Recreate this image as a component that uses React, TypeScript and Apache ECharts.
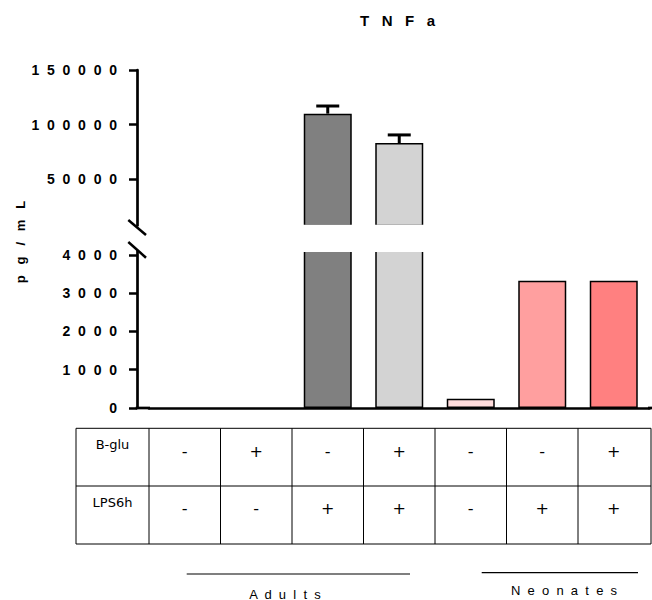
import React, { useEffect, useRef } from 'react';
import * as echarts from 'echarts';

// ---- data ----
const categories = ['Adult -/-', 'Adult +/-', 'Adult -/+', 'Adult +/+', 'Neo -/-', 'Neo -/+', 'Neo +/+'];
const values = [0, 0, 110000, 83000, 240, 3320, 3320];
const sdValues = [0, 0, 7000, 7500, 0, 0, 0];
const barColors = ['#ffffff', '#ffffff', '#808080', '#d3d3d3', '#ffdcdc', '#ff9f9f', '#ff8080'];
const bGlu = ['-', '+', '-', '+', '-', '-', '+'];
const lps6h = ['-', '-', '+', '+', '-', '+', '+'];
const rowLabels = ['B-glu', 'LPS6h'];
const upperTicks = [50000, 100000, 150000];
const lowerTicks = [0, 1000, 2000, 3000, 4000];
const groupNames = ['Adults', 'Neonates'];
const titleText = 'TNFa';
const yName = 'pg/mL';

const spaced = (s: string, n: number) => s.split('').join(' '.repeat(n));

const AX = '#000';
const axisFont = { fontFamily: 'Liberation Sans', fontWeight: 'bold' as const, fontSize: 14, color: '#000' };

export default function App() {
  const ref = useRef<HTMLDivElement>(null);
  useEffect(() => {
    document.body.style.margin = '0';
    if (!ref.current) return;
    const chart = echarts.init(ref.current, null, { renderer: 'svg' });
    const barData = values.map((v, i) => ({
      value: v,
      itemStyle: { color: barColors[i], borderWidth: v === 0 ? 0 : 1.5 },
    }));
    const yCommon = (ticks: number[]) => ({
      type: 'value',
      offset: 12,
      axisLine: { show: true, lineStyle: { color: AX, width: 2.7 } },
      axisTick: { show: true, length: 8, customValues: ticks, lineStyle: { color: AX, width: 2.5 } },
      axisLabel: {
        customValues: ticks,
        margin: 20,
        ...axisFont,
        formatter: (v: number) => spaced(String(v), 2),
      },
      splitLine: { show: false },
    });
    chart.setOption({
      animation: false,
      grid: [
        { left: 149, right: 2.5, top: 70, height: 155.5 },
        { left: 149, right: 2.5, top: 251, height: 157 },
      ],
      xAxis: [
        { gridIndex: 0, type: 'category', data: categories, show: false },
        {
          gridIndex: 1,
          type: 'category',
          data: categories,
          axisLine: { lineStyle: { color: AX, width: 2.7 } },
          axisTick: { alignWithLabel: true, length: 8, lineStyle: { color: AX, width: 2.5 } },
          axisLabel: { show: false },
        },
      ],
      yAxis: [
        { gridIndex: 0, min: 7500, max: 150000, ...yCommon(upperTicks) },
        { gridIndex: 1, min: 0, max: 4100, ...yCommon(lowerTicks) },
      ],
      series: [
        {
          type: 'bar', xAxisIndex: 0, yAxisIndex: 0, data: barData, barWidth: 48,
          itemStyle: { borderColor: '#000', borderWidth: 1.5 },
        },
        {
          type: 'bar', xAxisIndex: 1, yAxisIndex: 1, data: barData, barWidth: 48,
          itemStyle: { borderColor: '#000', borderWidth: 1.5 },
        },
        {
          type: 'custom', xAxisIndex: 0, yAxisIndex: 0, z: 5,
          data: values.map((v, i) => [i, v, sdValues[i]]),
          renderItem: (params: any, api: any) => {
            const i = api.value(0);
            const m = api.value(1);
            const s = api.value(2);
            if (!s) return null;
            const base = api.coord([i, m]);
            const top = api.coord([i, m + s]);
            return {
              type: 'group',
              children: [
                { type: 'line', shape: { x1: base[0], y1: base[1], x2: top[0], y2: top[1] }, style: { stroke: '#000', lineWidth: 3 } },
                { type: 'line', shape: { x1: top[0] - 11.5, y1: top[1], x2: top[0] + 11.5, y2: top[1] }, style: { stroke: '#000', lineWidth: 3 } },
              ],
            };
          },
        },
      ],
    });

    const cx = categories.map((_, i) => chart.convertToPixel({ xAxisIndex: 1 }, i) as number);
    const half = (cx[1] - cx[0]) / 2;
    const tblLeft = 76, tblLabelRight = cx[0] - half, tblRight = 651;
    const tTop = 428.3, tMid = 486, tBot = 544;
    const line = (x1: number, y1: number, x2: number, y2: number, w = 1, z = 60) => ({
      type: 'line', z, shape: { x1, y1, x2, y2 }, style: { stroke: '#000', lineWidth: w },
    });
    const txt = (text: string, x: number, y: number, font: any, z = 60) => ({
      type: 'text', z, x, y,
      style: { text, align: 'center', verticalAlign: 'middle', fill: '#000', ...font },
    });
    const graphics: any[] = [];
    // break gap
    graphics.push({ type: 'rect', z: 50, shape: { x: 139, y: 224.8, width: 513, height: 27.2 }, style: { fill: '#fff' } });
    graphics.push(line(128.3, 220, 146, 235, 2.5));
    graphics.push(line(128.3, 242, 146, 257.7, 2.5));
    // x axis extensions
    graphics.push(line(135.7, 408, 150, 408, 2.7));
    graphics.push(line(648, 408, 652, 408, 2.7));
    // title and y name
    graphics.push(txt(spaced(titleText, 3), 397.5, 20, { fontFamily: 'Liberation Sans', fontWeight: 'bold', fontSize: 15 }));
    graphics.push({
      type: 'text', z: 60, x: 20, y: 242, rotation: Math.PI / 2,
      style: { text: spaced(yName, 3), align: 'center', verticalAlign: 'middle', fill: '#000', fontFamily: 'Liberation Sans', fontWeight: 'bold', fontSize: 13 },
    });
    // table
    graphics.push({ type: 'rect', z: 60, shape: { x: tblLeft, y: tTop, width: tblRight - tblLeft, height: tBot - tTop }, style: { fill: 'none', stroke: '#000', lineWidth: 1 } });
    graphics.push(line(tblLeft, tMid, tblRight, tMid));
    graphics.push(line(tblLabelRight, tTop, tblLabelRight, tBot));
    for (let i = 0; i < cx.length - 1; i++) {
      const bx = (cx[i] + cx[i + 1]) / 2;
      graphics.push(line(bx, tTop, bx, tBot));
    }
    const cellFont = { fontFamily: 'DejaVu Sans', fontSize: 16 };
    const lblFont = { fontFamily: 'DejaVu Sans', fontSize: 13 };
    graphics.push(txt(rowLabels[0], (tblLeft + tblLabelRight) / 2, 444, lblFont));
    graphics.push(txt(rowLabels[1], (tblLeft + tblLabelRight) / 2, 502, lblFont));
    cx.forEach((x, i) => {
      graphics.push(txt(bGlu[i], x, 451, cellFont));
      graphics.push(txt(lps6h[i], x, 508, cellFont));
    });
    // group labels
    const grpFont = { fontFamily: 'Liberation Sans', fontSize: 13 };
    graphics.push(line(186.7, 574, 410, 574, 1.2));
    graphics.push(line(481.7, 572.7, 638, 572.7, 1.2));
    graphics.push(txt(spaced(groupNames[0], 2), 285, 594, grpFont));
    graphics.push(txt(spaced(groupNames[1], 2), 564, 590, grpFont));

    chart.setOption({ graphic: graphics });
    return () => chart.dispose();
  }, []);
  return <div ref={ref} style={{ width: 652, height: 600 }} />;
}
